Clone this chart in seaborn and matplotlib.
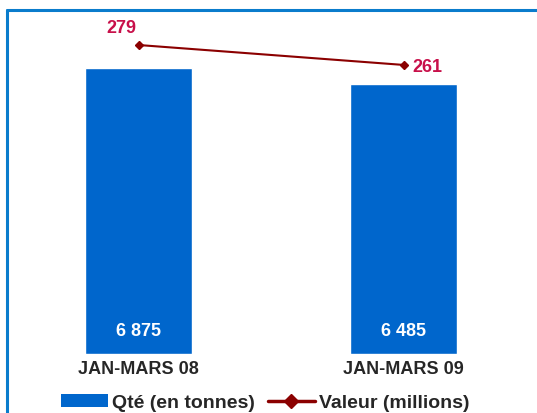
import matplotlib
matplotlib.use('Agg')
import matplotlib.pyplot as plt
from matplotlib.lines import Line2D
from matplotlib.patches import Patch
import seaborn as sns
import pandas as pd

sns.set_style("white")
plt.rcParams['font.family'] = ['Liberation Sans', 'DejaVu Sans']
plt.rcParams['font.weight'] = 'bold'

# data
periods = ['JAN-MARS 08', 'JAN-MARS 09']
qte = [6875, 6485]          # Qté (en tonnes)
valeur = [279, 261]         # Valeur (millions)
qte_labels = ['6 875', '6 485']

bar_col = '#0066cc'
line_col = '#8b0000'
lab_col = '#c8104a'
txt_col = '#262626'

df = pd.DataFrame({'periode': periods, 'qte': qte, 'valeur': valeur})

W, H = 537, 413
fig = plt.figure(figsize=(W / 100, H / 100), dpi=100)
ax = fig.add_axes([6 / W, 1 - 354 / H, 530 / W, 334 / H])

sns.barplot(data=df, x='periode', y='qte', color=bar_col, width=0.404,
            saturation=1, ax=ax)
ax.set_xlim(-0.5, 1.5)
ax.set_ylim(0, 334 / (286 / 6875))

for i, lab in enumerate(qte_labels):
    ax.text(i, 22 / (286 / 6875), lab, ha='center', va='center',
            color='white', fontsize=13, fontweight='bold')

ax2 = ax.twinx()
ax2.plot(range(len(periods)), valeur, color=line_col, lw=1.5,
         marker='D', ms=4)
ax2.set_ylim(0, 334 / (309 / 279))
ax2.text(-0.065, valeur[0] + 15, str(valeur[0]), ha='center', va='center',
         color=lab_col, fontsize=13, fontweight='bold')
ax2.text(0.035 + 1, valeur[1] - 2, str(valeur[1]), ha='left', va='center',
         color=lab_col, fontsize=13, fontweight='bold')

for a in (ax, ax2):
    for s in a.spines.values():
        s.set_visible(False)
    a.set_yticks([])
    a.set_ylabel('')
ax.set_xlabel('')
ax.set_xticks([0, 1])
ax.set_xticklabels(periods, fontsize=13, fontweight='bold', color=txt_col)
ax.tick_params(axis='x', which='major', length=0, pad=5)
ax.set_xticks([0.5], minor=True)
ax.tick_params(axis='x', which='minor', length=4, width=1, color='#808080',
               direction='out')

# legend
handles = [Patch(facecolor=bar_col, edgecolor='none'),
           Line2D([], [], color=line_col, lw=2.5, marker='D', ms=7)]
fig.legend(handles, ['Qté (en tonnes)', 'Valeur (millions)'],
           loc='center', bbox_to_anchor=(265 / W, 1 - 403 / H), ncol=2,
           frameon=False, prop={'size': 14, 'weight': 'bold'},
           labelcolor=txt_col, handlelength=2.4, handleheight=0.65,
           handletextpad=0.2, columnspacing=0.7, borderpad=0)

# blue frame (left and top edges visible)
frame_col = '#0a7ccc'
fig.add_artist(Line2D([7 / W, 7 / W], [0, 1 - 10 / H], color=frame_col,
                      lw=2.2, transform=fig.transFigure))
fig.add_artist(Line2D([7 / W, 1], [1 - 10 / H, 1 - 10 / H], color=frame_col,
                      lw=2.2, transform=fig.transFigure))

fig.savefig('out.png', dpi=100)
